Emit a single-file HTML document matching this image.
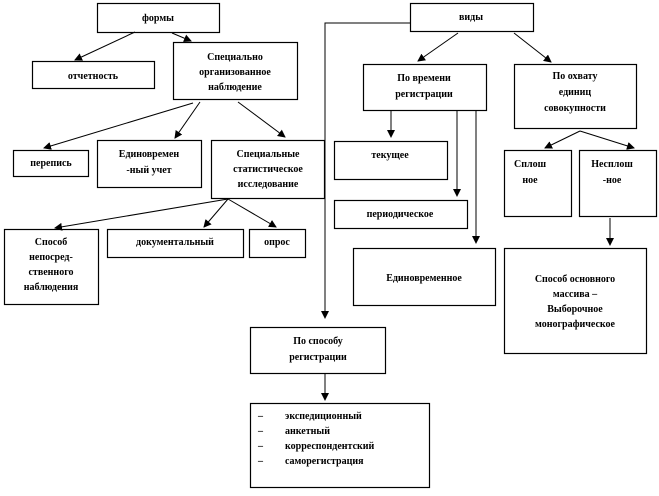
<!DOCTYPE html>
<html><head><meta charset="utf-8"><style>
html,body{margin:0;padding:0;background:#fff}
svg text{font-family:"Liberation Serif","Noto Serif CJK SC",serif;font-weight:bold;font-size:10px;fill:#000}
</style></head><body>
<svg width="659" height="491" viewBox="0 0 659 491" xmlns="http://www.w3.org/2000/svg">
<defs><marker id="a" markerWidth="8" markerHeight="8" refX="7" refY="4" orient="auto" markerUnits="userSpaceOnUse"><path d="M0,0 L8,4 L0,8 Z" fill="#000"/></marker></defs>
<g fill="#fff" stroke="#000" stroke-width="1.2">
<rect x="97.5" y="3.5" width="122" height="29"/>
<rect x="32.5" y="61.5" width="122" height="27"/>
<rect x="173.5" y="42.5" width="124" height="57"/>
<rect x="13.5" y="150.5" width="75" height="26"/>
<rect x="97.5" y="140.5" width="104" height="47"/>
<rect x="211.5" y="140.5" width="113" height="58"/>
<rect x="4.5" y="229.5" width="94" height="75"/>
<rect x="107.5" y="229.5" width="136" height="28"/>
<rect x="249.5" y="229.5" width="56" height="28"/>
<rect x="410.5" y="3.5" width="123" height="28"/>
<rect x="363.5" y="64.5" width="123" height="46"/>
<rect x="514.5" y="64.5" width="122" height="64"/>
<rect x="334.5" y="141.5" width="113" height="38"/>
<rect x="334.5" y="200.5" width="133" height="28"/>
<rect x="353.5" y="248.5" width="142" height="57"/>
<rect x="504.5" y="150.5" width="67" height="66"/>
<rect x="579.5" y="150.5" width="77" height="66"/>
<rect x="504.5" y="248.5" width="142" height="105"/>
<rect x="250.5" y="327.5" width="135" height="46"/>
<rect x="250.5" y="403.5" width="179" height="84"/>
</g>
<g stroke="#000" stroke-width="1" fill="none">
<path d="M410,23 H325 V318" marker-end="url(#a)"/>
<path d="M135,32 L75,60" marker-end="url(#a)"/>
<path d="M172,33 L191,41" marker-end="url(#a)"/>
<path d="M193,103 L44,148" marker-end="url(#a)"/>
<path d="M200,102 L175,138" marker-end="url(#a)"/>
<path d="M238,102 L285,137" marker-end="url(#a)"/>
<path d="M228,199 L55,228" marker-end="url(#a)"/>
<path d="M228,199 L204,227" marker-end="url(#a)"/>
<path d="M228,199 L276,227" marker-end="url(#a)"/>
<path d="M458,33 L418,61" marker-end="url(#a)"/>
<path d="M514,33 L551,62" marker-end="url(#a)"/>
<path d="M391,110 V137" marker-end="url(#a)"/>
<path d="M457,110 V196" marker-end="url(#a)"/>
<path d="M476,110 V243" marker-end="url(#a)"/>
<path d="M580,131 L545,148" marker-end="url(#a)"/>
<path d="M580,131 L634,148" marker-end="url(#a)"/>
<path d="M610,218 V245" marker-end="url(#a)"/>
<path d="M325,373 V400" marker-end="url(#a)"/>
</g>
<g text-anchor="middle">
<text x="158" y="21" font-size="11">формы</text>
<text x="93" y="79">отчетность</text>
<text x="235" y="60">Специально</text>
<text x="235" y="75">организованное</text>
<text x="235" y="90">наблюдение</text>
<text x="51" y="166">перепись</text>
<text x="149" y="157">Единовремен</text>
<text x="149" y="173">-ный  учет</text>
<text x="268" y="157">Специальные</text>
<text x="268" y="172">статистическое</text>
<text x="268" y="187">исследование</text>
<text x="51" y="245">Способ</text>
<text x="51" y="260">непосред-</text>
<text x="51" y="275">ственного</text>
<text x="51" y="290">наблюдения</text>
<text x="175" y="245">документальный</text>
<text x="277" y="245">опрос</text>
<text x="471" y="20">виды</text>
<text x="424" y="81">По  времени</text>
<text x="424" y="97">регистрации</text>
<text x="575" y="79">По  охвату</text>
<text x="575" y="95">единиц</text>
<text x="575" y="111">совокупности</text>
<text x="390" y="158">текущее</text>
<text x="400" y="217">периодическое</text>
<text x="424" y="281">Единовременное</text>
<text x="530" y="167">Сплош</text>
<text x="530" y="183">ное</text>
<text x="612" y="167">Несплош</text>
<text x="612" y="183">-ное</text>
<text x="575" y="282">Способ  основного</text>
<text x="575" y="297">массива  –</text>
<text x="575" y="312">Выборочное</text>
<text x="575" y="327">монографическое</text>
<text x="318" y="344">По  способу</text>
<text x="318" y="360">регистрации</text>
</g>
<g>
<text x="258" y="419">–</text><text x="285" y="419">экспедиционный</text>
<text x="258" y="434">–</text><text x="285" y="434">анкетный</text>
<text x="258" y="449">–</text><text x="285" y="449">корреспондентский</text>
<text x="258" y="464">–</text><text x="285" y="464">саморегистрация</text>
</g>
</svg>
</body></html>
